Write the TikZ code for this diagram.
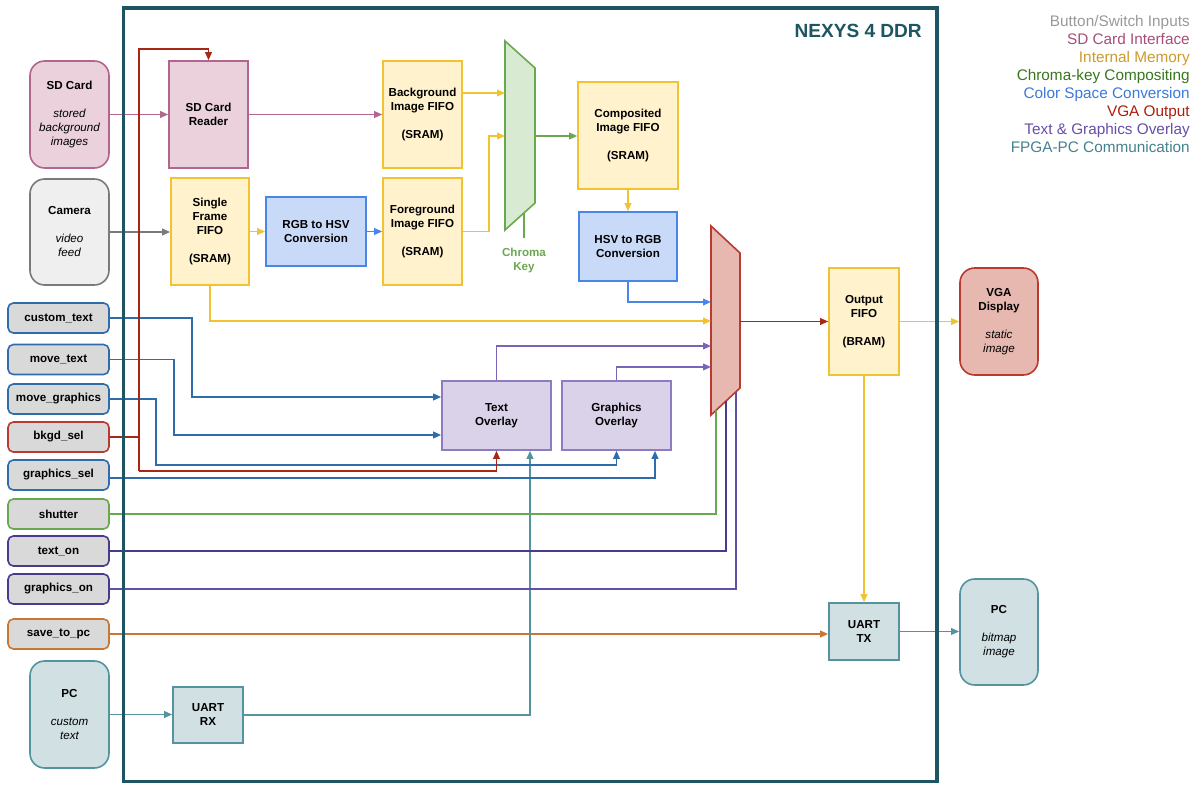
\documentclass[tikz,border=0pt]{standalone}
\usepackage{fontspec}
\setmainfont{Liberation Sans}
\usetikzlibrary{arrows.meta,calc}
\definecolor{frm}{HTML}{1D5662}
\definecolor{pinkF}{HTML}{EAD1DC}\definecolor{pinkD}{HTML}{B2658F}
\definecolor{grayF}{HTML}{EFEFEF}\definecolor{grayD}{HTML}{7A7A7A}
\definecolor{inF}{HTML}{D9D9D9}
\definecolor{yelF}{HTML}{FFF2CC}\definecolor{yelD}{HTML}{F1C232}
\definecolor{bluF}{HTML}{C9DAF8}\definecolor{bluD}{HTML}{4A86E8}
\definecolor{purF}{HTML}{D9D2E9}\definecolor{purD}{HTML}{8E7CC3}\definecolor{purL}{HTML}{7A64BA}
\definecolor{tealF}{HTML}{D0E0E3}\definecolor{tealD}{HTML}{5494A0}
\definecolor{redF}{HTML}{E6B8AF}\definecolor{redD}{HTML}{B83A30}\definecolor{redL}{HTML}{A82614}
\definecolor{grnF}{HTML}{D9EAD3}\definecolor{grnD}{HTML}{6AA84F}
\definecolor{ctl}{HTML}{2F6CAB}
\definecolor{orgD}{HTML}{C87634}
\definecolor{indD}{HTML}{4A3A8E}\definecolor{indL}{HTML}{6250A6}
\definecolor{lgGray}{HTML}{999999}\definecolor{lgPink}{HTML}{A64D79}
\definecolor{lgYel}{HTML}{CC9A2B}\definecolor{lgGrn}{HTML}{38761D}
\definecolor{lgBlu}{HTML}{3C78D8}\definecolor{lgRed}{HTML}{B01C0A}
\definecolor{lgPur}{HTML}{674EA7}\definecolor{lgTeal}{HTML}{45818E}
\newcommand\nfont{\fontsize{8.7}{10.5}\selectfont\bfseries}
\newcommand\dsc[1]{{\mdseries\itshape #1}}
\tikzset{
  wh/.style 2 args={minimum width=#1*0.75pt, minimum height=#2*0.75pt},
  box/.style={draw, line width=1.2pt, inner sep=0pt, align=center, font=\nfont},
  src/.style={box, rounded corners=11pt},
  inp/.style={box, rounded corners=4pt, fill=inF, wh={101}{30}},
  pinkbox/.style={fill=pinkF, draw=pinkD},
  yelbox/.style={fill=yelF, draw=yelD},
  blubox/.style={fill=bluF, draw=bluD},
  purbox/.style={fill=purF, draw=purD},
  tealbox/.style={fill=tealF, draw=tealD},
  redbox/.style={fill=redF, draw=redD},
  con/.style={line width=1.2pt, -{Triangle[length=6pt,width=5pt]}},
  lin/.style={line width=1.2pt},
  leg/.style={anchor=base east, inner sep=0pt, font=\fontsize{11.5}{13}\selectfont},
}
\begin{document}
\begin{tikzpicture}[x=0.75pt,y=-0.75pt]
\useasboundingbox (0,0) rectangle (1200,785);

% legend
\node[leg, text=lgGray] (lg1) at (1190,26.5) {Button/Switch Inputs};
\node[leg, text=lgPink] (lg2) at (1190,44.5) {SD Card Interface};
\node[leg, text=lgYel]  (lg3) at (1190,62.5) {Internal Memory};
\node[leg, text=lgGrn]  (lg4) at (1190,80.5) {Chroma-key Compositing};
\node[leg, text=lgBlu]  (lg5) at (1190,98.5) {Color Space Conversion};
\node[leg, text=lgRed]  (lg6) at (1190,116.5) {VGA Output};
\node[leg, text=lgPur]  (lg7) at (1190,134.5) {Text \& Graphics Overlay};
\node[leg, text=lgTeal] (lg8) at (1190,152.5) {FPGA-PC Communication};

% outside sources
\node[src, pinkbox, wh={79}{107}] (sdcard) at (69.5,114.5) {SD Card\\[10.5pt]\dsc{stored}\\\dsc{background}\\\dsc{images}};
\node[src, fill=grayF, draw=grayD, wh={79}{106}] (camera) at (69.5,232) {Camera\\[10.5pt]\dsc{video}\\\dsc{feed}};
\node[src, tealbox, wh={79}{107}] (pcl) at (69.5,714.5) {PC\\[10.5pt]\dsc{custom}\\\dsc{text}};
\node[src, redbox, wh={78}{107}] (vga) at (999,321.5) {VGA\\Display\\[10.5pt]\dsc{static}\\\dsc{image}};
\node[src, tealbox, wh={78}{106}] (pcr) at (999,632) {PC\\[10.5pt]\dsc{bitmap}\\\dsc{image}};

% input buttons
\node[inp, draw=ctl] (ctext) at (58.5,318) {custom\_text};
\node[inp, draw=ctl] (mtext) at (58.5,359.5) {move\_text};
\node[inp, draw=ctl] (mgfx) at (58.5,399) {move\_graphics};
\node[inp, draw=redD] (bsel) at (58.5,437) {bkgd\_sel};
\node[inp, draw=ctl] (gsel) at (58.5,475) {graphics\_sel};
\node[inp, draw=grnD] (shut) at (58.5,514) {shutter};
\node[inp, draw=indD] (ton) at (58.5,551) {text\_on};
\node[inp, draw=indD] (gon) at (58.5,589) {graphics\_on};
\node[inp, draw=orgD] (savepc) at (58.5,634) {save\_to\_pc};

% internal blocks
\node[box, pinkbox, wh={79}{107}] (sdreader) at (208.5,114.5) {SD Card\\Reader};
\node[box, yelbox, wh={79}{107}] (bgfifo) at (422.5,114.5) {Background\\Image FIFO\\[10.5pt](SRAM)};
\node[box, yelbox, wh={78}{107}] (sfifo) at (210,231.5) {Single\\Frame\\FIFO\\[10.5pt](SRAM)};
\node[box, blubox, wh={100}{69}] (rgb2hsv) at (316,231.5) {RGB to HSV\\Conversion};
\node[box, yelbox, wh={79}{107}] (fgfifo) at (422.5,231.5) {Foreground\\Image FIFO\\[10.5pt](SRAM)};
\node[box, yelbox, wh={100}{107}] (compfifo) at (628,135.5) {Composited\\Image FIFO\\[10.5pt](SRAM)};
\node[box, blubox, wh={98}{69}] (hsv2rgb) at (628,246.5) {HSV to RGB\\Conversion};
\node[box, yelbox, wh={70}{107}] (outfifo) at (864,321.5) {Output\\FIFO\\[10.5pt](BRAM)};
\node[box, tealbox, wh={70}{57}] (uarttx) at (864,631.5) {UART\\TX};
\node[box, purbox, wh={109}{69}] (textov) at (496.5,415.5) {Text\\Overlay};
\node[box, purbox, wh={109}{69}] (grov) at (616.5,415.5) {Graphics\\Overlay};
\node[box, tealbox, wh={70}{56}] (uartrx) at (208,715) {UART\\RX};

% chroma key mux
\coordinate (ckTL) at (505,41); \coordinate (ckTR) at (535,68);
\coordinate (ckBR) at (535,203); \coordinate (ckBL) at (505,230);
\draw[line width=1.2pt, draw=grnD, fill=grnF] (ckTL) -- (ckTR) -- (ckBR) -- (ckBL) -- cycle;
\coordinate (ckin1) at (505,93); \coordinate (ckin2) at (505,136);
\coordinate (ckout) at (535,136);
\coordinate (ckstub) at ($(ckBL)!19/30!(ckBR)$);
\draw[lin, grnD] (ckstub) -- ++(0,25) coordinate (ckstubend);
\node[font=\nfont, text=grnD, align=center, anchor=north, inner sep=0pt] (cklabel) at ($(ckstubend)+(0,10)$) {Chroma\\Key};

% output mux
\coordinate (muxTL) at (711,226); \coordinate (muxTR) at (740,253);
\coordinate (muxBR) at (740,388); \coordinate (muxBL) at (711,415);
\draw[line width=1.2pt, draw=redD, fill=redF] (muxTL) -- (muxTR) -- (muxBR) -- (muxBL) -- cycle;
\coordinate (muxin1) at (711,302); \coordinate (muxin2) at (711,321);
\coordinate (muxin3) at (711,346); \coordinate (muxin4) at (711,367);
\coordinate (muxout) at (740,321.5);
\coordinate (mb1) at ($(muxBL)!5/29!(muxBR)$);
\coordinate (mb2) at ($(muxBL)!15/29!(muxBR)$);
\coordinate (mb3) at ($(muxBL)!25/29!(muxBR)$);

% data path
\draw[con, pinkD] (sdcard) -- (sdreader);
\draw[con, pinkD] (sdreader) -- (bgfifo);
\draw[con, grayD] (camera.east) -- (sfifo.west |- camera.east);
\draw[con, yelD] (sfifo) -- (rgb2hsv);
\draw[con, bluD] (rgb2hsv) -- (fgfifo);
\draw[con, yelD] (bgfifo.east |- ckin1) -- (ckin1);
\draw[con, yelD] (fgfifo.east) -- ++(26,0) |- (ckin2);
\draw[con, grnD] (ckout) -- (compfifo.west |- ckout);
\draw[con, yelD] (compfifo) -- (hsv2rgb);
\draw[con, bluD] (hsv2rgb.south) |- (muxin1);
\draw[con, yelD] (sfifo.south) |- (muxin2);
\draw[con, purL] (textov.north) |- (muxin3);
\draw[con, purL] (grov.north) |- (muxin4);
\draw[con, redL] (muxout) -- (outfifo.west);
\draw[con, yelD] (outfifo) -- (vga);
\draw[con, yelD] (outfifo) -- (uarttx);
\draw[con, tealD] (uarttx.east) -- (pcr.west |- uarttx.east);
\draw[con, orgD] (savepc.east) -- (savepc.east -| uarttx.west);
\draw[con, tealD] (pcl.east) -- (uartrx.west |- pcl.east);
\draw[con, tealD] (uartrx.east) -| ($(textov.south)+(33.5,0)$);

% control lines
\draw[con, ctl] (ctext.east) -- ++(82,0) |- ($(textov.west)+(0,-18.5)$);
\draw[con, ctl] (mtext.east) -- ++(64,0) |- ($(textov.west)+(0,19.5)$);
\draw[con, ctl] (mgfx.east) -- ++(46,0) |- ($(grov.south)+(0,14)$) -- (grov.south);
\coordinate (rtop) at (139,49); \coordinate (rbot) at (139,471);
\draw[lin, redL] (bsel.east) -- (bsel.east -| rtop);
\draw[con, redL] (rbot) -- (rtop) -| (sdreader.north);
\draw[con, redL] (rbot) -| (textov.south);
\draw[con, ctl] ($(gsel.east)+(0,3)$) -| ($(grov.south)+(38.5,0)$);
\draw[lin, grnD] (shut.east) -| (mb1);
\draw[lin, indD] (ton.east) -| (mb2);
\draw[lin, indL] (gon.east) -| (mb3);

% FPGA frame
\draw[line width=2.6pt, frm] (123.5,8) rectangle (937,781.5);
\node[anchor=east, inner sep=0pt, text=frm, font=\fontsize{14.3}{16}\selectfont\bfseries] (title) at (922,31) {NEXYS 4 DDR};
\end{tikzpicture}
\end{document}
